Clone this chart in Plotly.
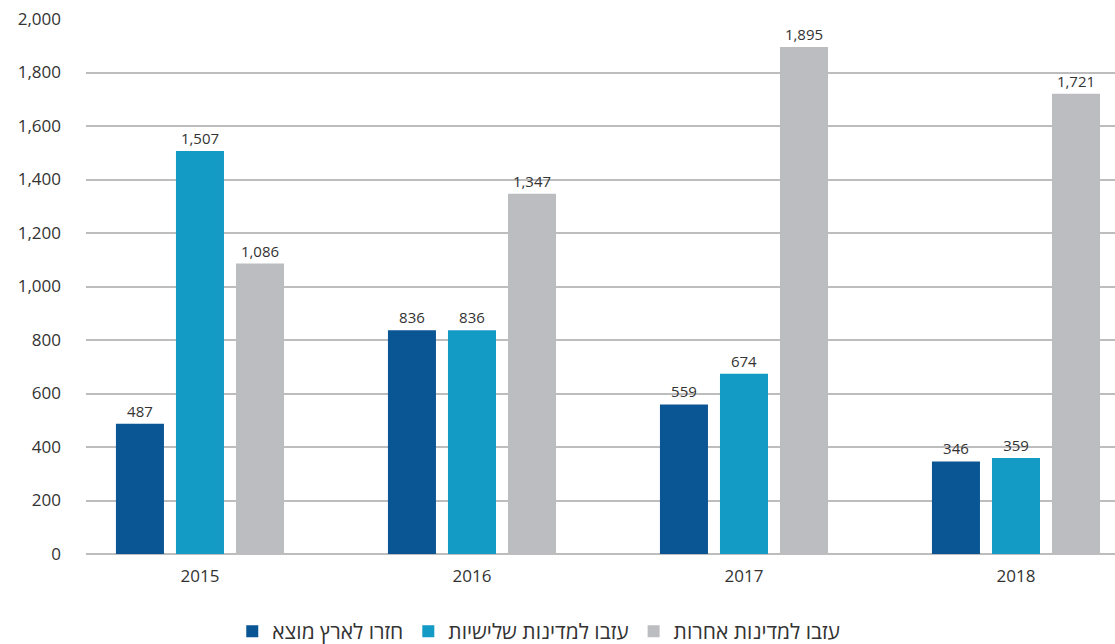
import plotly.graph_objects as go

years = ["2015", "2016", "2017", "2018"]
returned = [487, 836, 559, 346]
third_countries = [1507, 836, 674, 359]
other_countries = [1086, 1347, 1895, 1721]

names = ["חזרו לארץ מוצא", "עזבו למדינות שלישיות", "עזבו למדינות אחרות"]
colors = ["#0a5594", "#139ac5", "#bcbdc1"]
series = [returned, third_countries, other_countries]

font_family = "Open Sans, DejaVu Sans, sans-serif"

fig = go.Figure()
for name, vals, col in zip(names, series, colors):
    fig.add_trace(go.Bar(
        x=years, y=vals, name=name, marker_color=col,
        marker_line_width=0,
        text=[f"{v:,}" for v in vals], textposition="outside",
        textfont=dict(size=15, color="#333333", family=font_family),
        cliponaxis=False,
    ))

fig.update_layout(
    width=1115, height=644,
    margin=dict(l=86, r=0, t=19, b=90, autoexpand=False),
    barmode="group", bargap=0.338, bargroupgap=0.2,
    plot_bgcolor="white", paper_bgcolor="white",
    font=dict(family=font_family, color="#333333"),
    showlegend=True,
    legend=dict(orientation="h", x=0.44, xanchor="center", y=-0.145, yanchor="middle",
                font=dict(size=21, color="#333333", family=font_family),
                traceorder="normal", itemwidth=30, tracegroupgap=0),
    xaxis=dict(type="category", range=[-0.419, 3.364], showgrid=False, automargin=False,
               tickfont=dict(size=17, color="#333333"), ticks="", showline=False,
               ticklabelstandoff=10),
    yaxis=dict(range=[0, 2000], dtick=200, tickformat=",", showgrid=True, automargin=False,
               gridcolor="#bdbdbd", gridwidth=1.5, zeroline=True,
               zerolinecolor="#bdbdbd", zerolinewidth=1.5,
               tickfont=dict(size=17, color="#333333"), ticklabelstandoff=24),
)

fig.write_html("out.html", config={"displayModeBar": False},
               post_script="document.body.style.margin='0';")
